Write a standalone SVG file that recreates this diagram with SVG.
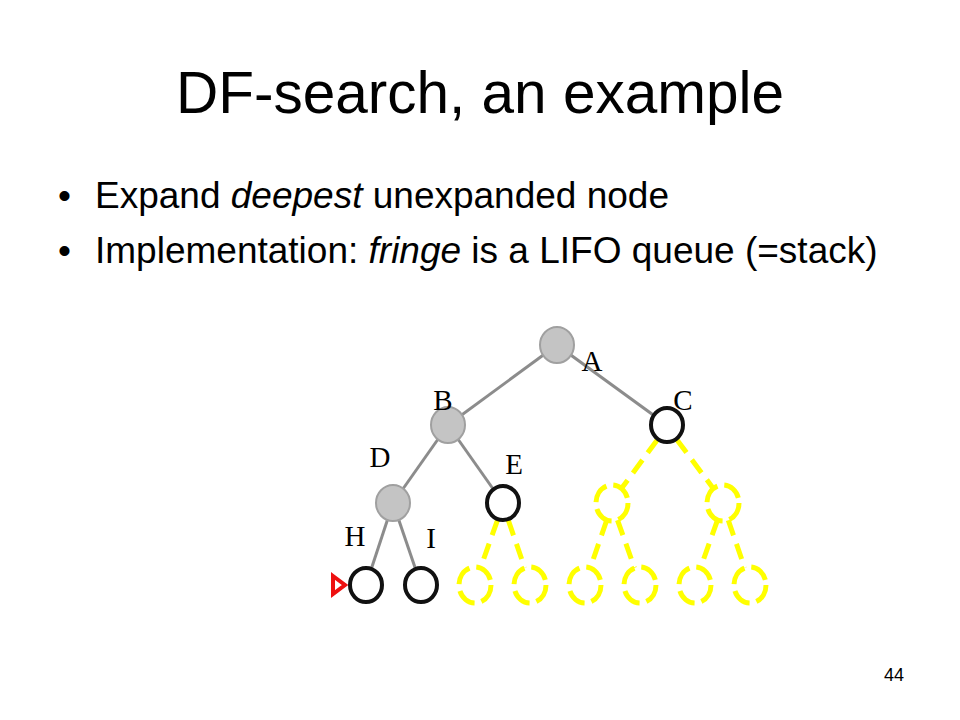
<svg xmlns="http://www.w3.org/2000/svg" width="960" height="720" viewBox="0 0 960 720">
<style>
.title{font-family:"Liberation Sans",Arial,sans-serif;font-size:58.5px;fill:#000}
.bul{font-family:"Liberation Sans",Arial,sans-serif;font-size:37px;fill:#000}
.pg{font-family:"Liberation Sans",Arial,sans-serif;font-size:18px;fill:#000}
.lbl{font-family:"Liberation Serif","Times New Roman",serif;font-size:29px;fill:#000;text-anchor:middle}
.edge{stroke:#8c8c8c;stroke-width:3;fill:none}
.yedge{stroke:#ffff00;stroke-width:5;fill:none;stroke-dasharray:16 9}
.done{fill:#c4c4c4;stroke:#a0a0a0;stroke-width:2}
.open{fill:#fff;stroke:#111;stroke-width:4}
.ghost{fill:none;stroke:#ffff00;stroke-width:5;stroke-dasharray:20 7}
</style>
<rect width="960" height="720" fill="#fff"/>
<text class="title" x="480" y="113" text-anchor="middle">DF-search, an example</text>
<text class="bul" x="58" y="208">•</text>
<text class="bul" x="95" y="208">Expand <tspan font-style="italic">deepest</tspan> unexpanded node</text>
<text class="bul" x="58" y="263">•</text>
<text class="bul" x="95" y="263">Implementation: <tspan font-style="italic">fringe</tspan> is a LIFO queue (=stack)</text>
<text class="pg" x="904" y="681" text-anchor="end">44</text>
<g id="connectors">
<line class="edge" x1="557" y1="345" x2="448" y2="425"/>
<line class="edge" x1="557" y1="345" x2="667" y2="425"/>
<line class="edge" x1="448" y1="425" x2="393" y2="503"/>
<line class="edge" x1="448" y1="425" x2="503" y2="503"/>
<line class="edge" x1="393" y1="503" x2="366" y2="585"/>
<line class="edge" x1="393" y1="503" x2="421" y2="585"/>
<line class="yedge" x1="657.2" y1="439.9" x2="621.8" y2="488.1"/>
<line class="yedge" x1="676.9" y1="439.8" x2="713.1" y2="488.2"/>
<line class="yedge" x1="497.5" y1="520.1" x2="480.5" y2="567.9"/>
<line class="yedge" x1="508.3" y1="520.2" x2="524.7" y2="567.8"/>
<line class="yedge" x1="606.7" y1="520.2" x2="590.3" y2="567.8"/>
<line class="yedge" x1="617.5" y1="520.1" x2="634.5" y2="567.9"/>
<line class="yedge" x1="717.5" y1="520.1" x2="700.5" y2="567.9"/>
<line class="yedge" x1="728.3" y1="520.2" x2="744.7" y2="567.8"/>
</g>
<g id="node-A"><ellipse class="done" cx="557" cy="345" rx="17" ry="18"/><text class="lbl" x="592" y="371">A</text></g>
<g id="node-B"><ellipse class="done" cx="448" cy="425" rx="17" ry="18"/><text class="lbl" x="443" y="410">B</text></g>
<g id="node-C"><ellipse class="open" cx="667" cy="425" rx="16" ry="17"/><text class="lbl" x="683" y="410">C</text></g>
<g id="node-D"><ellipse class="done" cx="393" cy="503" rx="17" ry="18"/><text class="lbl" x="380" y="467">D</text></g>
<g id="node-E"><ellipse class="open" cx="503" cy="503" rx="16" ry="17"/><text class="lbl" x="514" y="474">E</text></g>
<g id="node-H"><ellipse class="open" cx="366" cy="585" rx="16" ry="17"/><text class="lbl" x="355" y="546">H</text></g>
<g id="node-I"><ellipse class="open" cx="421" cy="585" rx="16" ry="17"/><text class="lbl" x="431" y="548">I</text></g>
<g id="node-CL"><ellipse class="ghost" cx="612" cy="503" rx="16" ry="18"/></g>
<g id="node-CR"><ellipse class="ghost" cx="723" cy="503" rx="16" ry="18"/></g>
<g id="node-EL"><ellipse class="ghost" cx="475" cy="585" rx="16" ry="18"/></g>
<g id="node-ER"><ellipse class="ghost" cx="530" cy="585" rx="16" ry="18"/></g>
<g id="node-CLL"><ellipse class="ghost" cx="585" cy="585" rx="16" ry="18"/></g>
<g id="node-CLR"><ellipse class="ghost" cx="640" cy="585" rx="16" ry="18"/></g>
<g id="node-CRL"><ellipse class="ghost" cx="695" cy="585" rx="16" ry="18"/></g>
<g id="node-CRR"><ellipse class="ghost" cx="750" cy="585" rx="16" ry="18"/></g>
<g id="pointer"><polygon points="333,576 345,585 333,594" fill="#fff" stroke="#ee1111" stroke-width="4" stroke-linejoin="miter"/></g>
</svg>
